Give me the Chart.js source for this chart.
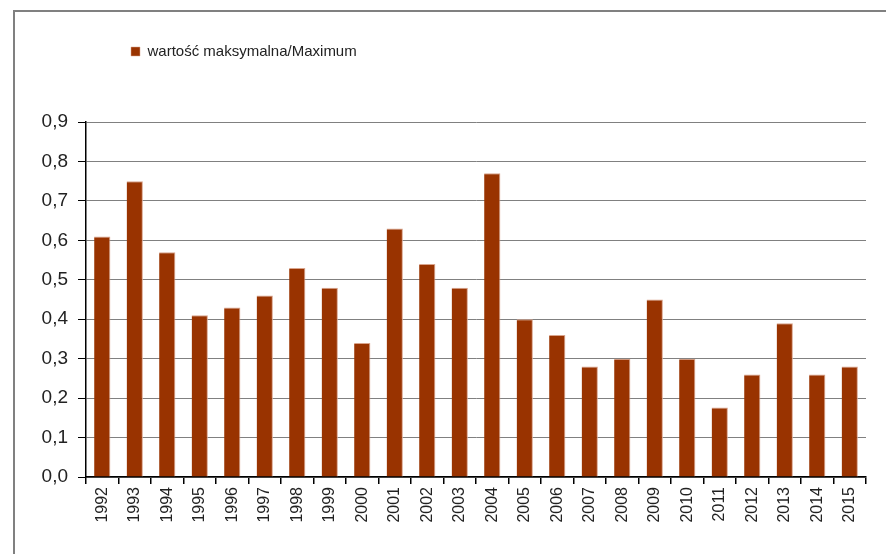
<!DOCTYPE html>
<html>
<head>
<meta charset="utf-8">
<script src="https://cdn.jsdelivr.net/npm/chart.js@4"></script>
<style>
  html, body { margin: 0; padding: 0; background: #fff; }
  #wrap { position: relative; width: 886px; height: 554px; }
  #frame {
    position: absolute; left: 13px; top: 10px; width: 880px; height: 560px;
    border-left: 2px solid #808080; border-top: 2px solid #808080;
    pointer-events: none;
  }
</style>
</head>
<body>
<div id="wrap">
  <canvas id="chart" width="886" height="554"></canvas>
  <div id="frame"></div>
</div>
<script>
// years on the x axis
const years = ['1992','1993','1994','1995','1996','1997','1998','1999','2000','2001','2002','2003',
               '2004','2005','2006','2007','2008','2009','2010','2011','2012','2013','2014','2015'];
// maximum values
const maxValues = [0.61, 0.75, 0.57, 0.41, 0.43, 0.46, 0.53, 0.48, 0.34, 0.63, 0.54, 0.48,
                   0.77, 0.40, 0.36, 0.28, 0.30, 0.45, 0.30, 0.176, 0.26, 0.39, 0.26, 0.28];
const seriesLabel = 'wartość maksymalna/Maximum';

// move the legend to where the original has it
const legendPlacer = {
  id: 'legendPlacer',
  afterLayout(chart) {
    const lg = chart.legend;
    if (!lg) return;
    const w = lg.right - lg.left, h = lg.bottom - lg.top;
    lg.left = 121; lg.right = lg.left + w;
    lg.top = 34; lg.bottom = lg.top + h;
  }
};

const ctx = document.getElementById('chart').getContext('2d');
new Chart(ctx, {
  type: 'bar',
  data: {
    labels: years,
    datasets: [{
      label: seriesLabel,
      data: maxValues,
      backgroundColor: '#993300',
      borderColor: '#d9a48c',
      borderWidth: { top: 1, right: 1, left: 0, bottom: 0 },
      barPercentage: 0.5,
      categoryPercentage: 1.0
    }]
  },
  options: {
    responsive: false,
    animation: false,
    layout: { padding: { top: 87, right: 20, bottom: 0, left: 0 } },
    plugins: {
      tooltip: { enabled: false },
      legend: {
        position: 'top',
        align: 'start',
        labels: {
          boxWidth: 9,
          boxHeight: 9,
          padding: 10,
          color: '#222',
          font: { family: 'Liberation Sans', size: 15 }
        }
      }
    },
    scales: {
      x: {
        grid: {
          offset: true,
          drawOnChartArea: false,
          tickColor: '#000',
          tickLength: 7,
          lineWidth: 1.5
        },
        border: { color: '#000', width: 1.5 },
        ticks: {
          minRotation: 90,
          maxRotation: 90,
          padding: 3,
          color: '#222',
          font: { family: 'Liberation Sans', size: 16 }
        },
        afterFit(scale) { scale.height = 77; }
      },
      y: {
        min: 0,
        max: 0.9,
        grid: {
          color: '#808080',
          tickColor: '#000',
          tickLength: 8,
          lineWidth: 1
        },
        border: { color: '#000', width: 1.5 },
        ticks: {
          stepSize: 0.1,
          padding: 10,
          color: '#222',
          font: { family: 'Liberation Sans', size: 19 },
          callback: v => v.toFixed(1).replace('.', ',')
        },
        afterFit(scale) { scale.width = 86; }
      }
    }
  },
  plugins: [legendPlacer]
});
</script>
</body>
</html>
